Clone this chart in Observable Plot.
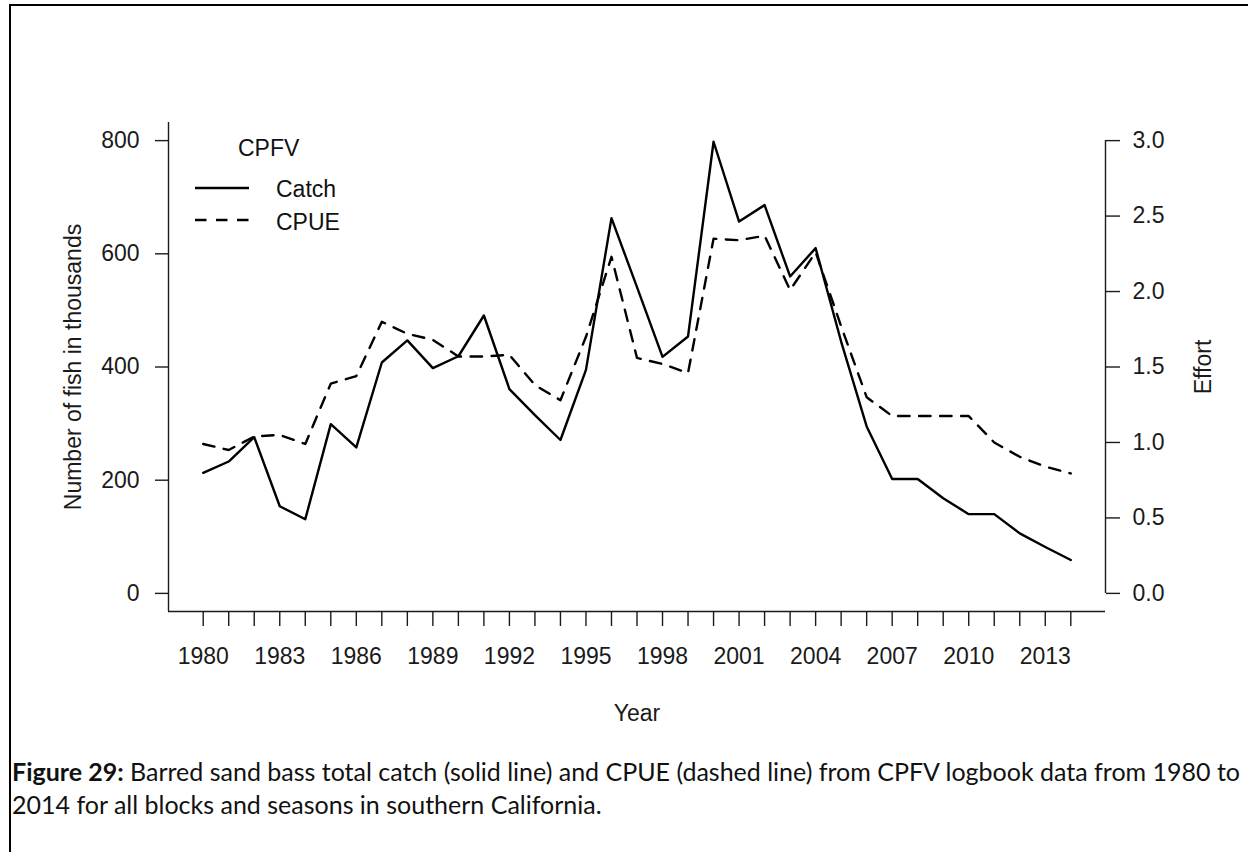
<!DOCTYPE html>
<html>
<head>
<meta charset="utf-8">
<script src="https://cdn.jsdelivr.net/npm/d3@7"></script>
<script src="https://cdn.jsdelivr.net/npm/@observablehq/plot@0.6"></script>
<style>
html, body { margin: 0; padding: 0; background: #fff; }
#page { position: relative; width: 1248px; height: 852px; overflow: hidden; background: #fff; }
#frame { position: absolute; left: 9px; top: 4px; width: 1300px; height: 900px; border-left: 2px solid #000; border-top: 2px solid #000; }
#chart { position: absolute; left: 0; top: 0; }
#legend { position: absolute; left: 0; top: 0; font-family: "Liberation Sans", Arial, sans-serif; font-size: 23px; fill: #111; }
#caption { position: absolute; left: 12px; top: 755px; font-family: Lato, "Open Sans", sans-serif; font-size: 25px; line-height: 33px; color: #111; white-space: nowrap; }
</style>
</head>
<body>
<div id="page">
  <div id="frame"></div>
  <div id="chart"></div>
  <svg id="legend" width="400" height="260">
    <text x="238" y="148" dy="0.35em">CPFV</text>
    <line x1="195" x2="249" y1="188" y2="188" stroke="#000" stroke-width="2.4"></line>
    <text x="276" y="189" dy="0.35em">Catch</text>
    <line x1="195" x2="249" y1="220" y2="220" stroke="#000" stroke-width="2.4" stroke-dasharray="11.5,9.5"></line>
    <text x="276" y="222" dy="0.35em">CPUE</text>
  </svg>
  <div id="caption"><b>Figure 29:</b> Barred sand bass total catch (solid line) and CPUE (dashed line) from CPFV logbook data from 1980 to<br>2014 for all blocks and seasons in southern California.</div>
</div>
<script>
// ---- data ----
const years = [1980,1981,1982,1983,1984,1985,1986,1987,1988,1989,1990,1991,1992,1993,1994,1995,1996,1997,1998,1999,2000,2001,2002,2003,2004,2005,2006,2007,2008,2009,2010,2011,2012,2013,2014];
const catchThousands = [213,233,276,154,131,299,258,408,447,398,419,491,361,315,271,395,663,541,418,454,798,657,686,560,610,445,295,202,202,168,140,140,106,82,59];
const cpueEffort = [0.99,0.95,1.04,1.05,0.99,1.39,1.44,1.80,1.72,1.68,1.57,1.57,1.58,1.38,1.28,1.70,2.23,1.56,1.52,1.46,2.35,2.34,2.37,2.01,2.26,1.77,1.30,1.175,1.175,1.175,1.175,1.00,0.905,0.84,0.795];
const leftTicks = [0,200,400,600,800];
const rightTicks = [0,0.5,1.0,1.5,2.0,2.5,3.0];
const xLabelYears = [1980,1983,1986,1989,1992,1995,1998,2001,2004,2007,2010,2013];

// secondary axis: Effort 0..3 mapped onto catch 0..800
const k = 800 / 3;
const data = years.map((yr, i) => ({year: yr, c: catchThousands[i], e: cpueEffort[i] * k}));

const xDom = [1980 - 34 * 0.04, 2014 + 34 * 0.04];
const yDom = [-32, 832];
const ink = "#1a1a1a";

const chart = Plot.plot({
  width: 1248,
  height: 745,
  marginLeft: 168,
  marginRight: 143,
  marginTop: 122,
  marginBottom: 134,
  style: {fontFamily: "'Liberation Sans', Arial, sans-serif", fontSize: "23px", color: ink, background: "transparent", overflow: "visible"},
  x: {domain: xDom},
  y: {domain: yDom},
  marks: [
    Plot.ruleX([xDom[0]], {y1: yDom[0], y2: yDom[1], stroke: ink, strokeWidth: 1.4}),
    Plot.ruleY([yDom[0]], {x1: xDom[0], x2: xDom[1], stroke: ink, strokeWidth: 1.4}),
    Plot.ruleX([xDom[1]], {y1: leftTicks[0], y2: leftTicks[leftTicks.length - 1], stroke: ink, strokeWidth: 1.4}),
    Plot.axisX({ticks: years, tickSize: 15, tickPadding: 21, strokeWidth: 1.4,
      tickFormat: d => xLabelYears.includes(d) ? String(d) : "", label: null}),
    Plot.axisY({anchor: "left", ticks: leftTicks, tickSize: 13, tickPadding: 16, strokeWidth: 1.4, label: null}),
    Plot.axisY({anchor: "right", ticks: rightTicks.map(v => v * k), tickFormat: d => (d / k).toFixed(1),
      tickSize: 14, tickPadding: 13, strokeWidth: 1.4, label: null}),
    Plot.line(data, {x: "year", y: "c", stroke: "#000", strokeWidth: 2.4}),
    Plot.line(data, {x: "year", y: "e", stroke: "#000", strokeWidth: 2.4, strokeDasharray: "11.5,9.5"}),
    Plot.text(["Number of fish in thousands"], {text: d => d, frameAnchor: "left", dx: -95, rotate: -90, textAnchor: "middle", lineAnchor: "middle", fill: ink}),
    Plot.text(["Effort"], {text: d => d, frameAnchor: "right", dx: 98, rotate: -90, textAnchor: "middle", lineAnchor: "middle", fill: ink}),
    Plot.text(["Year"], {text: d => d, frameAnchor: "bottom", dy: 102, textAnchor: "middle", lineAnchor: "middle", fill: ink})
  ]
});
document.getElementById("chart").appendChild(chart);
</script>
</body>
</html>
